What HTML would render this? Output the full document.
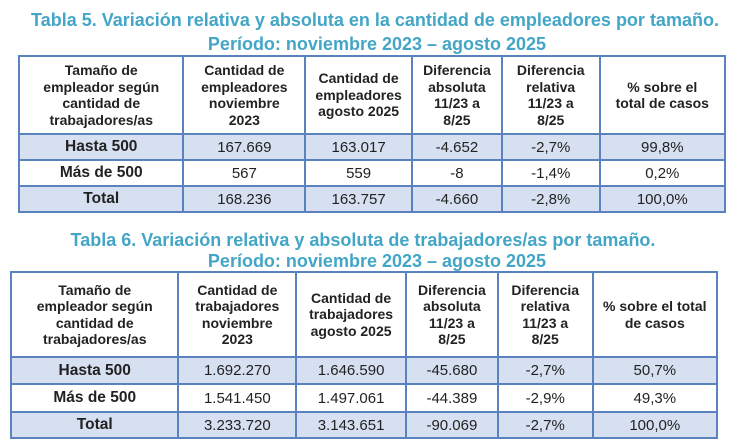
<!DOCTYPE html>
<html><head><meta charset="utf-8"><style>
body{margin:0;width:730px;height:444px;background:#fff;position:relative;font-family:"Liberation Sans",sans-serif;overflow:hidden}
.t{position:absolute;left:0;width:730px;text-align:center;color:#43a6c6;font-weight:bold;font-size:18px;line-height:20px}
table{position:absolute;border-collapse:collapse;border:2.5px solid #5a82bf}
td{border:2px solid #5a82bf;text-align:center;padding:0;color:#222;font-size:15px}
tr.h td{font-weight:bold;font-size:14px;line-height:16.5px}
tr.s td{background:#d6e0f1}
td.b{font-weight:bold;font-size:15.5px}
</style></head><body>
<div class="t" style="top:10px;left:10px">Tabla 5. Variación relativa y absoluta en la cantidad de empleadores por tamaño.</div>
<div class="t" style="top:34px;left:12px">Período: noviembre 2023 – agosto 2025</div>
<table style="left:18px;top:55px;width:708px;height:157px">
<colgroup><col style="width:165px"><col style="width:122px"><col style="width:107px"><col style="width:90px"><col style="width:98px"><col style="width:126px"></colgroup>
<tr class="h" style="height:78px"><td>Tamaño de<br>empleador según<br>cantidad de<br>trabajadores/as</td><td>Cantidad de<br>empleadores<br>noviembre<br>2023</td><td>Cantidad de<br>empleadores<br>agosto 2025</td><td>Diferencia<br>absoluta<br>11/23 a<br>8/25</td><td>Diferencia<br>relativa<br>11/23 a<br>8/25</td><td>% sobre el<br>total de casos</td></tr>
<tr class="s" style="height:26px"><td class="b">Hasta 500</td><td>167.669</td><td>163.017</td><td>-4.652</td><td>-2,7%</td><td>99,8%</td></tr>
<tr style="height:26px"><td class="b">Más de 500</td><td>567</td><td>559</td><td>-8</td><td>-1,4%</td><td>0,2%</td></tr>
<tr class="s" style="height:26px"><td class="b">Total</td><td>168.236</td><td>163.757</td><td>-4.660</td><td>-2,8%</td><td>100,0%</td></tr>
</table>
<div class="t" style="top:230px;left:-2px">Tabla 6. Variación relativa y absoluta de trabajadores/as por tamaño.</div>
<div class="t" style="top:251px;left:12px">Período: noviembre 2023 – agosto 2025</div>
<table style="left:10px;top:271px;width:708px;height:167px">
<colgroup><col style="width:168px"><col style="width:118px"><col style="width:110px"><col style="width:92px"><col style="width:95px"><col style="width:125px"></colgroup>
<tr class="h" style="height:85px"><td>Tamaño de<br>empleador según<br>cantidad de<br>trabajadores/as</td><td>Cantidad de<br>trabajadores<br>noviembre<br>2023</td><td>Cantidad de<br>trabajadores<br>agosto 2025</td><td>Diferencia<br>absoluta<br>11/23 a<br>8/25</td><td>Diferencia<br>relativa<br>11/23 a<br>8/25</td><td>% sobre el total<br>de casos</td></tr>
<tr class="s" style="height:27px"><td class="b">Hasta 500</td><td>1.692.270</td><td>1.646.590</td><td>-45.680</td><td>-2,7%</td><td>50,7%</td></tr>
<tr style="height:28px"><td class="b">Más de 500</td><td>1.541.450</td><td>1.497.061</td><td>-44.389</td><td>-2,9%</td><td>49,3%</td></tr>
<tr class="s" style="height:26px"><td class="b">Total</td><td>3.233.720</td><td>3.143.651</td><td>-90.069</td><td>-2,7%</td><td>100,0%</td></tr>
</table>
</body></html>
